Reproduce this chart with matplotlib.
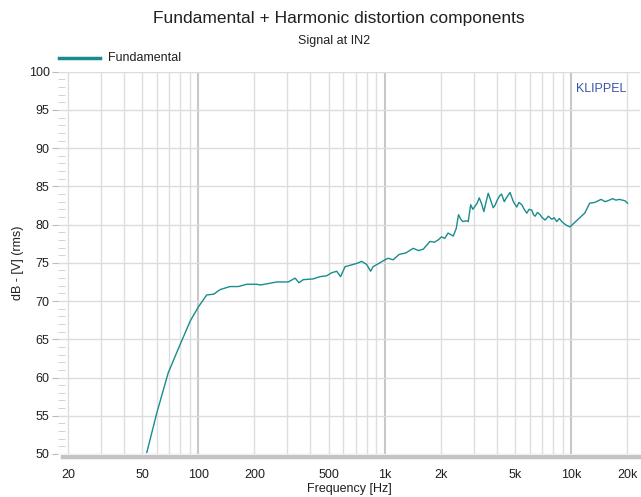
import numpy as np
import matplotlib
matplotlib.use("Agg")
import matplotlib.pyplot as plt
from matplotlib.ticker import FixedLocator, NullFormatter, MultipleLocator

plt.rcParams['font.family'] = ['Liberation Sans', 'DejaVu Sans']

# values
freq = [53, 60, 69, 78, 90.6, 100, 111, 121, 131, 148, 164, 182, 206, 215, 238,
        264, 304, 331, 347, 366, 414, 450, 488, 519, 553, 580, 613, 680, 722, 751,
        800, 840, 867, 942, 1002, 1043, 1110, 1196, 1300, 1422, 1520, 1612, 1748,
        1850, 1935, 2018, 2100, 2186, 2331, 2420, 2488, 2560, 2624, 2751, 2805,
        2891, 2970, 3050, 3130, 3215, 3300, 3404, 3500, 3592, 3700, 3821, 3920,
        4010, 4145, 4235, 4379, 4520, 4700, 4900, 5105, 5250, 5436, 5600, 5783,
        5950, 6151, 6280, 6408, 6600, 6808, 7000, 7254, 7550, 7878, 8100, 8372,
        8650, 8900, 9200, 9450, 9845, 10150, 10460, 11120, 11825, 12570, 13360,
        14480, 15200, 16020, 16700, 17390, 18100, 18870, 19500, 20060]
level = [50.2, 55.4, 60.6, 63.7, 67.4, 69.2, 70.8, 70.9, 71.5, 71.9, 71.9, 72.2,
         72.2, 72.1, 72.3, 72.5, 72.5, 73.0, 72.4, 72.8, 72.9, 73.2, 73.3, 73.7,
         73.9, 73.2, 74.5, 74.8, 75.0, 75.2, 74.8, 73.9, 74.5, 75.0, 75.4, 75.6,
         75.4, 76.1, 76.3, 76.9, 76.6, 76.8, 77.8, 77.7, 78.0, 78.4, 78.2, 78.9,
         78.5, 79.5, 81.3, 80.7, 80.4, 80.5, 80.4, 82.6, 82.0, 82.4, 82.8, 83.5,
         82.8, 81.7, 83.0, 84.1, 83.2, 82.2, 82.6, 83.2, 83.8, 84.0, 83.0, 83.6,
         84.2, 83.0, 82.3, 82.9, 82.6, 82.0, 81.5, 82.0, 81.9, 81.3, 81.1, 81.6,
         81.3, 80.9, 80.6, 81.1, 80.7, 80.9, 80.4, 80.8, 80.4, 80.1, 79.9, 79.7,
         80.0, 80.3, 80.9, 81.5, 82.8, 82.9, 83.3, 83.0, 83.2, 83.4, 83.2, 83.3,
         83.2, 83.1, 82.8]

xticks = [20, 50, 100, 200, 500, 1000, 2000, 5000, 10000, 20000]
xticklabels = ['20', '50', '100', '200', '500', '1k', '2k', '5k', '10k', '20k']
yticks = [50, 55, 60, 65, 70, 75, 80, 85, 90, 95, 100]

teal = '#1a8c8c'

fig = plt.figure(figsize=(6.41, 4.97), dpi=100)
W, H = 641, 497
ax = fig.add_axes([58 / W, (H - 454) / H, (640 - 58) / W, (454 - 71.7) / H])

ax.set_xscale('log')
ax.set_xlim(17.7, 23400)
ax.set_ylim(50, 100)

# grid lines
minor_lines = [m * d for d in (10, 100, 1000, 10000) for m in range(2, 10)]
minor_lines = [v for v in minor_lines if 20 <= v <= 20000]
for v in minor_lines:
    ax.axvline(v, color='#dedede', lw=1.0, zorder=0)
for v in (100, 1000, 10000):
    ax.axvline(v, color='#c8c8c8', lw=1.5, zorder=0)
for v in yticks:
    ax.axhline(v, color='#dcdcdc', lw=1.0, zorder=0)

ax.plot(freq, level, color=teal, lw=1.0, zorder=3)

ax.xaxis.set_major_locator(FixedLocator(xticks))
ax.set_xticklabels(xticklabels)
ax.xaxis.set_minor_formatter(NullFormatter())
ax.xaxis.set_minor_locator(FixedLocator([]))
ax.tick_params(axis='x', which='major', length=0, pad=8.5, labelsize=9, labelcolor='#202020')

ax.set_yticks(yticks)
ax.yaxis.set_minor_locator(MultipleLocator(1))
ax.tick_params(axis='y', which='major', direction='out', length=4, color='#bbbbbb',
               pad=2, labelsize=9, labelcolor='#202020')
ax.tick_params(axis='y', which='minor', direction='in', length=5, color='#cccccc')

for s in ('left', 'top', 'right'):
    ax.spines[s].set_visible(False)
ax.spines['bottom'].set_color('#c4c4c4')
ax.spines['bottom'].set_linewidth(3.2)
ax.spines['bottom'].set_position(('outward', 2))
ax.spines['bottom'].set_bounds(18.8, 23400)

ax.set_xlabel('Frequency [Hz]', fontsize=9, labelpad=2, color='#202020')
ax.set_ylabel('dB - [V] (rms)', fontsize=9, labelpad=3, color='#202020')

fig.text(339 / W, 1 - 19 / H, 'Fundamental + Harmonic distortion components',
         ha='center', va='center', fontsize=12.5, color='#202020')
fig.text(334 / W, 1 - 41 / H, 'Signal at IN2', ha='center', va='center',
         fontsize=9, color='#202020')

# legend
fig.lines.append(plt.Line2D([59 / W, 100 / W], [1 - 58 / H, 1 - 58 / H],
                            transform=fig.transFigure, color=teal, lw=2.5))
fig.text(108 / W, 1 - 58 / H, 'Fundamental', ha='left', va='center',
         fontsize=9, color='#202020')

ax.text(0.976, 0.955, 'KLIPPEL', transform=ax.transAxes, ha='right', va='center',
        fontsize=9, color='#3a55a8')

fig.savefig('out.png', dpi=100)
